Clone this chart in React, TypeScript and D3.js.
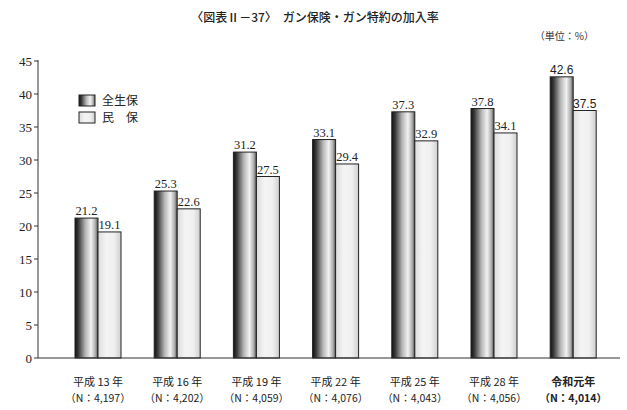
import React from "react";
import * as d3 from "d3";

const categories = ["平成 13 年", "平成 16 年", "平成 19 年", "平成 22 年", "平成 25 年", "平成 28 年", "令和元年"];
const sampleSizes = ["（N：4,197）", "（N：4,202）", "（N：4,059）", "（N：4,076）", "（N：4,043）", "（N：4,056）", "（N：4,014）"];
const seriesNames = ["全生保", "民　保"];
const zenSeiho = [21.2, 25.3, 31.2, 33.1, 37.3, 37.8, 42.6];
const minpo = [19.1, 22.6, 27.5, 29.4, 32.9, 34.1, 37.5];
const yTicks = [0, 5, 10, 15, 20, 25, 30, 35, 40, 45];

const W = 627;
const H = 410;
const serif = "'Liberation Serif', 'DejaVu Serif', serif";
const cjk = "'Noto Sans CJK JP', sans-serif";

export default function App() {
  const x = d3.scaleBand<string>().domain(categories).range([58.4, 612.8]).padding(0);
  const y = d3.scaleLinear().domain([0, 45]).range([358, 61]);
  const barW = 23;
  const axisX = 38;
  const series = [zenSeiho, minpo];
  const fills = ["url(#gDark)", "url(#gLight)"];
  const last = categories.length - 1;

  return (
    <svg width={W} height={H} style={{ position: "absolute", left: 0, top: 0, background: "#fff" }}>
      <defs>
        <linearGradient id="gDark" x1="0" x2="1" y1="0" y2="0">
          <stop offset="0" stopColor="#111" />
          <stop offset="0.15" stopColor="#3a3a3a" />
          <stop offset="0.45" stopColor="#b5b5b5" />
          <stop offset="0.7" stopColor="#f2f2f2" />
          <stop offset="0.88" stopColor="#b0b0b0" />
          <stop offset="1" stopColor="#555" />
        </linearGradient>
        <linearGradient id="gLight" x1="0" x2="1" y1="0" y2="0">
          <stop offset="0" stopColor="#dcdcdc" />
          <stop offset="0.35" stopColor="#f4f4f4" />
          <stop offset="0.7" stopColor="#f0f0f0" />
          <stop offset="1" stopColor="#cfcfcf" />
        </linearGradient>
      </defs>

      <text x={315} y={22} textAnchor="middle" fontFamily={cjk} fontSize={12} fontWeight={500} fill="#222">
        〈図表Ⅱ－37〉　ガン保険・ガン特約の加入率
      </text>
      <text x={594} y={40} textAnchor="end" fontFamily={cjk} fontSize={10} fill="#333">
        （単位：%）
      </text>

      {/* y axis */}
      <line x1={axisX} x2={axisX} y1={y(45) - 1} y2={y(0)} stroke="#333" strokeWidth={1} />
      {yTicks.map((t) => (
        <g key={t}>
          <line x1={axisX - 4} x2={axisX} y1={y(t)} y2={y(t)} stroke="#333" strokeWidth={1} />
          <text x={axisX - 6} y={y(t) + 4.5} textAnchor="end" fontFamily={serif} fontSize={13} fill="#222">
            {t}
          </text>
        </g>
      ))}

      {/* bars */}
      {categories.map((c, i) => {
        const cx = (x(c) as number) + x.bandwidth() / 2;
        return (
          <g key={c}>
            {series.map((s, k) => {
              const bx = cx - barW + k * barW;
              const v = s[i];
              return (
                <g key={k}>
                  <rect x={bx} y={y(v)} width={barW} height={y(0) - y(v)} fill={fills[k]} stroke="#222" strokeWidth={1} />
                  <text
                    x={bx + barW / 2}
                    y={y(v) - 3}
                    textAnchor="middle"
                    fontFamily={i === last ? "'Liberation Sans', Arial, sans-serif" : serif}
                    fontSize={i === last ? 12 : 12.5}
                    fill="#222"
                  >
                    {v.toFixed(1)}
                  </text>
                </g>
              );
            })}
            <text x={cx} y={386} textAnchor="middle" fontFamily={cjk} fontSize={11} fontWeight={i === last ? 700 : 400} fill="#222">
              {c}
            </text>
            <text x={cx} y={402} textAnchor="middle" fontFamily={cjk} fontSize={10.5} fontWeight={i === last ? 700 : 400} fill="#222">
              {sampleSizes[i]}
            </text>
          </g>
        );
      })}

      {/* x axis */}
      <line x1={axisX} x2={620} y1={y(0)} y2={y(0)} stroke="#333" strokeWidth={1.2} />

      {/* legend */}
      {seriesNames.map((n, k) => (
        <g key={n}>
          <rect x={79} y={95 + k * 17} width={16} height={11} fill={fills[k]} stroke="#222" strokeWidth={1} />
          <text x={102} y={105 + k * 17} fontFamily={cjk} fontSize={12} fill="#222">
            {n}
          </text>
        </g>
      ))}
    </svg>
  );
}
